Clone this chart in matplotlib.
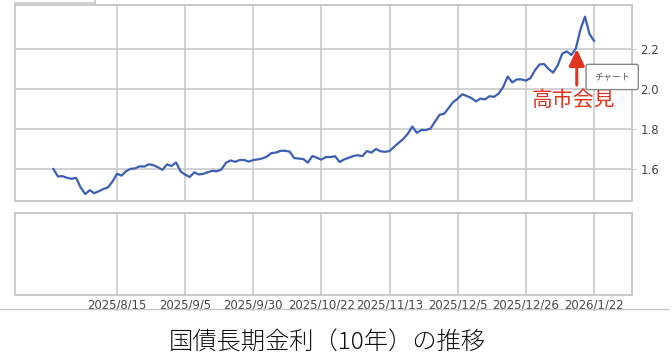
import numpy as np
import matplotlib
matplotlib.use("Agg")
import matplotlib.pyplot as plt
from matplotlib.lines import Line2D

plt.rcParams['font.family'] = ['Noto Sans CJK JP', 'DejaVu Sans']

# 10-year JGB yield, one value per trading day; day 0 = 2025/8/15
first_day = -14
yields = [
    1.600, 1.563, 1.564, 1.556, 1.551, 1.556, 1.508, 1.475, 1.494, 1.479,
    1.489, 1.500, 1.508, 1.537, 1.576, 1.567, 1.589, 1.601, 1.603, 1.614,
    1.612, 1.624, 1.619, 1.609, 1.596, 1.623, 1.615, 1.633, 1.588, 1.572,
    1.560, 1.583, 1.573, 1.576, 1.584, 1.591, 1.589, 1.598, 1.631, 1.643,
    1.636, 1.645, 1.645, 1.637, 1.645, 1.648, 1.653, 1.662, 1.680, 1.682,
    1.691, 1.691, 1.687, 1.655, 1.652, 1.650, 1.632, 1.665, 1.656, 1.647,
    1.660, 1.660, 1.664, 1.635, 1.648, 1.656, 1.665, 1.669, 1.664, 1.690,
    1.682, 1.700, 1.689, 1.686, 1.690, 1.711, 1.731, 1.750, 1.776, 1.812,
    1.781, 1.795, 1.795, 1.802, 1.837, 1.871, 1.876, 1.905, 1.935, 1.952,
    1.974, 1.965, 1.955, 1.938, 1.952, 1.948, 1.964, 1.961, 1.977, 2.010,
    2.062, 2.033, 2.048, 2.048, 2.042, 2.054, 2.094, 2.123, 2.125, 2.100,
    2.082, 2.118, 2.177, 2.188, 2.170, 2.203, 2.297, 2.362, 2.275, 2.241,
]
days = np.arange(first_day, first_day + len(yields))

tick_days = [0, 15, 30, 45, 60, 75, 90, 105]
tick_labels = ['2025/8/15', '2025/9/5', '2025/9/30', '2025/10/22',
               '2025/11/13', '2025/12/5', '2025/12/26', '2026/1/22']
y_ticks = [1.6, 1.8, 2.0, 2.2]

event_day = 101.2
event_label = '高市会見'

grid_c = '#c6c6c6'
line_c = '#3b5fb3'
red = '#e2331f'

fig = plt.figure(figsize=(6.72, 3.58), dpi=100)
ax = fig.add_axes([0.0223, 0.4385, 0.9182, 0.5475])
ax2 = fig.add_axes([0.0223, 0.176, 0.9182, 0.229])

for a in (ax, ax2):
    a.set_xlim(-22.45, 113.36)
    a.set_xticks(tick_days)
    a.grid(True, axis='x', color=grid_c, lw=1.1)
    for s in a.spines.values():
        s.set_color(grid_c)
        s.set_linewidth(1.3)
    a.set_axisbelow(True)

ax.plot(days, yields, color=line_c, lw=1.6)
ax.set_ylim(1.44, 2.42)
ax.set_yticks(y_ticks)
ax.set_yticklabels([f'{v:.1f}' for v in y_ticks], family='DejaVu Sans')
ax.grid(True, axis='y', color=grid_c, lw=1.1)
ax.yaxis.tick_right()
ax.tick_params(axis='y', length=3, color=grid_c, pad=3, labelsize=8.5, labelcolor='#444')
ax.tick_params(axis='x', length=0, labelbottom=False)

ax2.set_ylim(0, 1)
ax2.set_yticks([])
ax2.set_xticklabels(tick_labels, family='DejaVu Sans')
ax2.tick_params(axis='x', length=0, pad=2.5, labelsize=8.4, labelcolor='#444')

# event marker
ax.annotate('', xy=(event_day, 2.2), xytext=(event_day, 2.02),
            arrowprops=dict(arrowstyle='-|>,head_width=0.47,head_length=1.0',
                            mutation_scale=10, color=red, lw=2.2, shrinkA=0, shrinkB=0))
ax.text(100.4, 1.945, event_label, color=red, fontsize=15, ha='center', va='center')

fig.text(0.911, 0.785, 'チャート', fontsize=6.5, color='#555', ha='center', va='center',
         bbox=dict(boxstyle='round,pad=0.9,rounding_size=0.2', fc='white', ec='#888', lw=1))

# page decorations
fig.add_artist(Line2D([0, 0.994], [0.137, 0.137], color='#c8c8c8', lw=1))
fig.add_artist(Line2D([0.0223, 0.141], [0.992, 0.992], color='#c8c8c8', lw=1.2))
fig.add_artist(Line2D([0.141, 0.141], [0.992, 1.0], color='#c8c8c8', lw=1.2))

fig.text(0.487, 0.042, '国債長期金利（10年）の推移', fontsize=17.5, color='#111',
         ha='center', va='center', fontweight='light')

fig.savefig('out.png', dpi=100)
